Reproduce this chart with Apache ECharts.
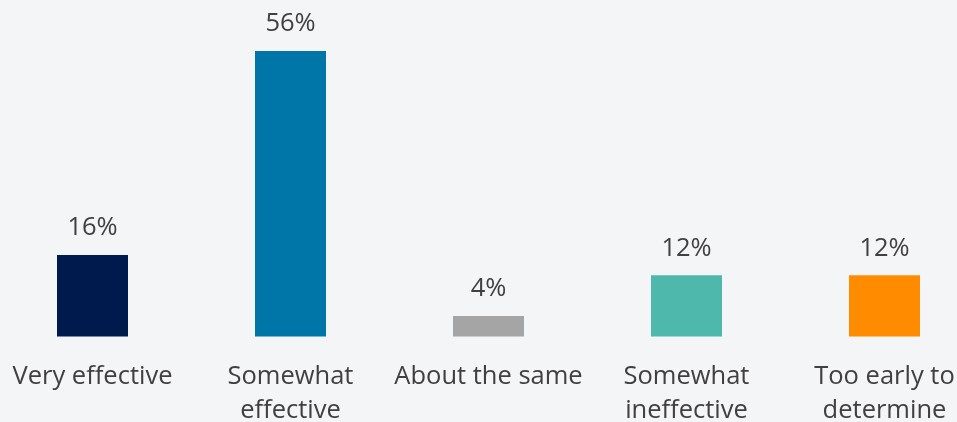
<!DOCTYPE html>
<html>
<head>
<meta charset="utf-8">
<script src="https://cdn.jsdelivr.net/npm/echarts@6/dist/echarts.min.js"></script>
<style>
  html, body { margin: 0; padding: 0; background: #f4f5f7; }
  #chart { width: 957px; height: 422px; }
</style>
</head>
<body>
<div id="chart"></div>
<script>
const categories = ['Very effective', 'Somewhat\neffective', 'About the same', 'Somewhat\nineffective', 'Too early to\ndetermine']
const values = [16, 56, 4, 12, 12]
const colors = ['#001a4e', '#0076a8', '#a5a5a5', '#4db8ab', '#ff8b00']

const chart = echarts.init(document.getElementById('chart'))
const option = {
  backgroundColor: '#f4f5f7',
  textStyle: { fontFamily: 'Open Sans' },
  grid: { left: -6.5, right: -26.5, top: 51, bottom: 85.5, outerBoundsMode: 'none', containLabel: false },
  xAxis: {
    type: 'category',
    data: categories,
    axisLine: { show: false },
    axisTick: { show: false },
    axisLabel: {
      interval: 0,
      color: '#404040',
      fontSize: 25.5,
      lineHeight: 34,
      margin: 23
    }
  },
  yAxis: {
    type: 'value',
    min: 0,
    max: 56,
    show: false
  },
  series: [{
    type: 'bar',
    barWidth: 71,
    data: values.map((v, i) => ({ value: v, itemStyle: { color: colors[i] } })),
    label: {
      show: true,
      position: 'top',
      distance: 14,
      color: '#404040',
      fontSize: 25.5,
      formatter: '{c}%'
    }
  }]
}
chart.setOption(option)
</script>
</body>
</html>
